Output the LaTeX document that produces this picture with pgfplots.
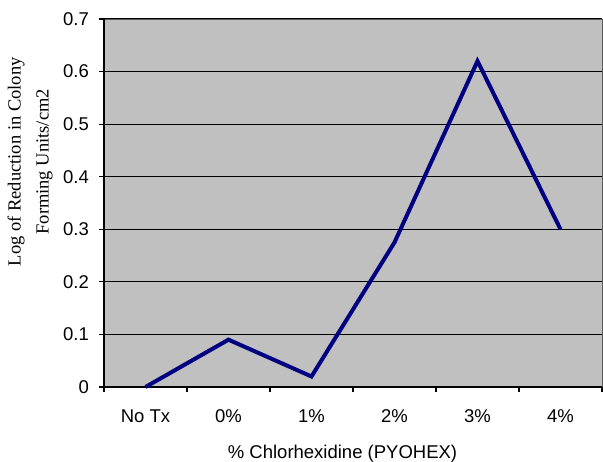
\documentclass[border=0pt]{standalone}
\usepackage{pgfplots}
\pgfplotsset{compat=1.18}
\usepackage{fontspec}
\setmainfont{Liberation Sans}
\newfontfamily\timesfont{Liberation Serif}
\definecolor{bg}{RGB}{192,192,192}
\definecolor{navyline}{RGB}{0,0,128}
\begin{document}
\begin{tikzpicture}
\useasboundingbox (0,0) rectangle (603pt,462pt);
\begin{axis}[
  at={(104pt,75pt)}, anchor=south west,
  scale only axis, width=498pt, height=368pt,
  /pgf/number format/assume math mode=true,
  font=\fontsize{18.5}{22}\selectfont,
  xmin=-0.5, xmax=5.5, ymin=0, ymax=0.7,
  axis x line*=bottom, axis y line*=left,
  axis line style={black, line width=1.8pt},
  axis background/.style={fill=bg, draw=gray!70!black, line width=0.8pt},
  ytick={0,0.1,0.2,0.3,0.4,0.5,0.6,0.7},
  yticklabels={0,0.1,0.2,0.3,0.4,0.5,0.6,0.7},
  xtick={-0.5,0.5,1.5,2.5,3.5,4.5,5.5},
  xticklabels={,,,,,,,},
  extra x ticks={0,1,2,3,4,5},
  extra x tick labels={No Tx,0\%,1\%,2\%,3\%,4\%},
  extra x tick style={major tick length=0pt},
  tick align=outside, major tick length=5pt,
  tick style={black, line width=1.2pt},
  ymajorgrids, major grid style={black, line width=1pt},
  xticklabel style={anchor=base, yshift=-36pt},
  yticklabel style={anchor=east, inner sep=0pt, xshift=-10pt},
  xlabel={\% Chlorhexidine (PYOHEX)},
  xlabel style={at={(axis description cs:0.479,-0.193)}, anchor=base},
  ylabel={Log of Reduction in Colony\\Forming Units/cm2},
  ylabel style={font=\timesfont\fontsize{18.5}{28}\selectfont, align=center,
    at={(axis description cs:-0.1486,0.612)}, anchor=center},
  clip=false,
]
\addplot[color=navyline, line width=4pt, line join=miter] coordinates {
  (0,0) (1,0.09) (2,0.02) (3,0.275) (4,0.62) (5,0.30)
};
\end{axis}
\end{tikzpicture}
\end{document}
